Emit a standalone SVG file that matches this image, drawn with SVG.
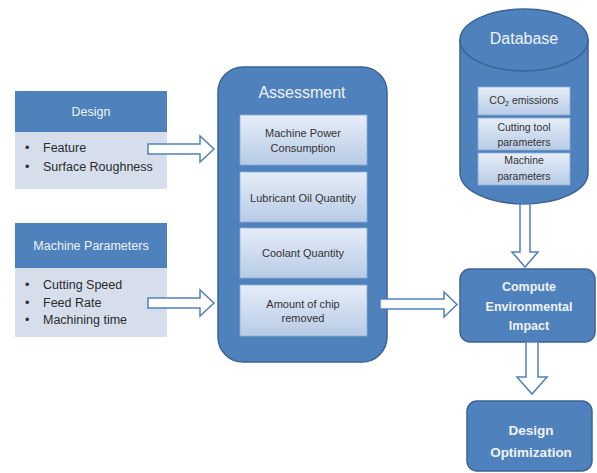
<svg xmlns="http://www.w3.org/2000/svg" width="597" height="473" viewBox="0 0 597 473">
<defs>
<linearGradient id="lg" x1="0" y1="0" x2="0" y2="1">
<stop offset="0" stop-color="#E6EDF8"/>
<stop offset="1" stop-color="#B7CBE5"/>
</linearGradient>
<style>
text{font-family:"Liberation Sans",Arial,sans-serif;text-anchor:middle}
.blue{fill:#4F81BD;stroke:#3A6396;stroke-width:1.5}
.hdr{fill:#4F81BD}
.body{fill:#D6DEEB}
.inner{fill:url(#lg);stroke:#8DACD3;stroke-width:0.8}
.ht{fill:#EEF3FA;font-size:12.5px}
.bt{fill:#2B2B2B;font-size:12.5px;text-anchor:start}
.it{fill:#333;font-size:11px}
.dt{fill:#333;font-size:10.5px}
.wt{fill:#EEF3FA;font-weight:bold;font-size:12.5px}
.wt2{fill:#EEF3FA;font-weight:bold;font-size:13.5px}
.arr{fill:#FFFFFF;stroke:#4F81BD;stroke-width:1.5;stroke-linejoin:miter}
</style>
</defs>
<rect width="597" height="473" fill="#FFFFFF"/>

<g id="design">
<rect class="hdr" x="15" y="91" width="152" height="41"/>
<rect class="body" x="15" y="132" width="152" height="57"/>
<text class="ht" x="91" y="116">Design</text>
<text class="bt" x="25" y="152">•</text><text class="bt" x="43" y="152">Feature</text>
<text class="bt" x="25" y="171">•</text><text class="bt" x="43" y="171">Surface Roughness</text>
</g>

<g id="machine-parameters">
<rect class="hdr" x="15" y="223" width="152" height="45"/>
<rect class="body" x="15" y="268" width="152" height="69"/>
<text class="ht" x="91" y="250">Machine Parameters</text>
<text class="bt" x="25" y="289">•</text><text class="bt" x="43" y="289">Cutting Speed</text>
<text class="bt" x="25" y="307">•</text><text class="bt" x="43" y="307">Feed Rate</text>
<text class="bt" x="25" y="324">•</text><text class="bt" x="43" y="324">Machining time</text>
</g>

<g id="assessment">
<rect class="blue" x="218" y="67" width="169" height="295" rx="25"/>
<text x="302" y="98" fill="#EEF3FA" font-size="16">Assessment</text>
<rect class="inner" x="240" y="115" width="127" height="50"/>
<text class="it" x="303" y="137">Machine Power</text>
<text class="it" x="303" y="152">Consumption</text>
<rect class="inner" x="240" y="172" width="127" height="50"/>
<text class="it" x="303" y="202">Lubricant Oil Quantity</text>
<rect class="inner" x="240" y="228" width="127" height="50"/>
<text class="it" x="303" y="257">Coolant Quantity</text>
<rect class="inner" x="240" y="285" width="127" height="51"/>
<text class="it" x="303" y="308">Amount of chip</text>
<text class="it" x="303" y="322">removed</text>
</g>

<g id="database">
<path class="blue" d="M460,40 L460,173 A64,31 0 0 0 588,173 L588,40 Z"/>
<ellipse class="blue" cx="524" cy="40" rx="64" ry="31"/>
<text x="524" y="44" fill="#EEF3FA" font-size="16">Database</text>
<rect class="inner" x="478" y="87" width="92" height="28"/>
<text class="dt" x="524" y="104">CO<tspan font-size="7" dy="2">2</tspan><tspan dy="-2"> emissions</tspan></text>
<rect class="inner" x="478" y="118" width="92" height="32"/>
<text class="dt" x="524" y="131">Cutting tool</text>
<text class="dt" x="524" y="146">parameters</text>
<rect class="inner" x="478" y="153" width="92" height="32"/>
<text class="dt" x="524" y="164">Machine</text>
<text class="dt" x="524" y="180">parameters</text>
</g>

<g id="compute">
<rect class="blue" x="460" y="269" width="135" height="73" rx="10"/>
<text class="wt" x="529" y="291">Compute</text>
<text class="wt" x="529" y="311">Environmental</text>
<text class="wt" x="529" y="330">Impact</text>
</g>

<g id="design-optimization">
<rect class="blue" x="467" y="401" width="125" height="70" rx="10"/>
<text class="wt2" x="531" y="435">Design</text>
<text class="wt2" x="531" y="457">Optimization</text>
</g>

<g id="connectors">
<path class="arr" d="M148,144 L200,144 L200,136 L214,149 L200,162 L200,154 L148,154 Z"/>
<path class="arr" d="M148,298 L200,298 L200,290 L214,303 L200,316 L200,308 L148,308 Z"/>
<path class="arr" d="M380,299 L444,299 L444,292 L457,304.5 L444,317 L444,309 L380,309 Z"/>
<path class="arr" d="M520,204 L520,252 L512,252 L525,267 L538,252 L530,252 L530,204 Z"/>
<path class="arr" d="M526,342 L526,377 L517,377 L532,394 L547,377 L538,377 L538,342 Z"/>
</g>
</svg>
